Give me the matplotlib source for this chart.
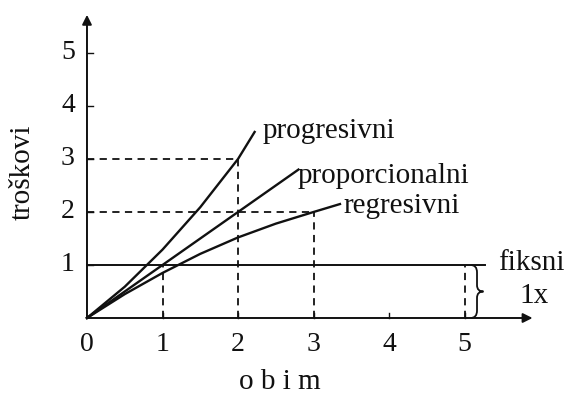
import numpy as np
import matplotlib
matplotlib.use("Agg")
import matplotlib.pyplot as plt
from matplotlib.path import Path
from matplotlib.patches import PathPatch

# ---------------------------------------------------------------------------
# Data (x = obim, y = troškovi)
# ---------------------------------------------------------------------------
PROG_X = [0, 0.5, 1.0, 1.5, 2.0, 2.22]
PROG_Y = [0, 0.59, 1.29, 2.09, 3.0, 3.51]

PROP_X = [0, 2.0, 2.8]
PROP_Y = [0, 2.0, 2.8]

REGR_X = [0, 0.5, 1.0, 1.5, 2.0, 2.5, 3.0, 3.35]
REGR_Y = [0, 0.45, 0.85, 1.21, 1.52, 1.78, 2.0, 2.15]

FIX_X = [0, 5.27]
FIX_Y = [1, 1]

X_TICKS = [0, 1, 2, 3, 4, 5]
Y_TICKS = [1, 2, 3, 4, 5]

# dashed guides: vertical drops from (x, y), horizontal ones to (x, y)
V_GUIDES = [(1, 1), (2, 3), (3, 2), (5, 1)]
H_GUIDES = [(2, 3), (3, 2)]

FONT = "Liberation Serif"
INK = "#111111"
FS = 21

fig = plt.figure(figsize=(5.68, 3.94), dpi=100)
ax = fig.add_axes([0, 0, 1, 1])
ax.set_xlim(-1.152, 6.37)
ax.set_ylim(-1.434, 6.0)
ax.axis("off")

# axes with arrow heads
arrow = dict(arrowstyle="-|>", color=INK, lw=1.4, mutation_scale=14,
             shrinkA=0, shrinkB=0)
ax.annotate("", xy=(5.9, 0), xytext=(0, 0), arrowprops=arrow)
ax.annotate("", xy=(0, 5.72), xytext=(0, 0), arrowprops=arrow)

# ticks
for t in X_TICKS[1:]:
    ax.plot([t, t], [0, 0.1], color=INK, lw=1)
for t in Y_TICKS:
    ax.plot([0, 0.08], [t, t], color=INK, lw=1)

for t in X_TICKS:
    ax.text(t, -0.5, str(t), ha="center", va="center", fontsize=20,
            family=FONT, color=INK)
for t in Y_TICKS:
    ax.text(-0.16, t, str(t), ha="right", va="center", fontsize=20,
            family=FONT, color=INK)

# dashed guides
dash = dict(color=INK, lw=1.3, ls=(0, (4, 3)))
for gx, gy in V_GUIDES:
    ax.plot([gx, gx], [0, gy], **dash)
for gx, gy in H_GUIDES:
    ax.plot([0, gx], [gy, gy], **dash)

# cost curves
ax.plot(PROG_X, PROG_Y, color=INK, lw=1.7)
ax.plot(PROP_X, PROP_Y, color=INK, lw=1.7)
ax.plot(REGR_X, REGR_Y, color=INK, lw=1.7)
ax.plot(FIX_X, FIX_Y, color=INK, lw=1.4)

# curve labels
lbl = dict(fontsize=FS, family=FONT, color=INK, va="center", ha="left")
ax.text(2.32, 3.52, "progresivni", **lbl)
ax.text(2.79, 2.68, "proporcionalni", **lbl)
ax.text(3.39, 2.12, "regresivni", **lbl)
ax.text(5.44, 1.04, "fiksni", **lbl)
ax.text(5.73, 0.42, "1x", **lbl)

# brace over the fixed-cost band
x0, w = 5.08, 0.17
verts = [(x0, 1.0), (x0 + w / 2, 1.0), (x0 + w / 2, 0.86),
         (x0 + w / 2, 0.62),
         (x0 + w / 2, 0.5), (x0 + w, 0.5),
         (x0 + w / 2, 0.5), (x0 + w / 2, 0.38),
         (x0 + w / 2, 0.14),
         (x0 + w / 2, 0.0), (x0, 0.0)]
codes = [Path.MOVETO, Path.CURVE3, Path.CURVE3,
         Path.LINETO,
         Path.CURVE3, Path.CURVE3,
         Path.CURVE3, Path.CURVE3,
         Path.LINETO,
         Path.CURVE3, Path.CURVE3]
ax.add_patch(PathPatch(Path(verts, codes), fill=False, ec=INK, lw=1.3))

ax.text(2.56, -1.2, "o b i m", fontsize=FS, family=FONT, color=INK,
        ha="center", va="center")
ax.text(-0.85, 2.75, "troškovi", fontsize=FS, family=FONT, color=INK,
        ha="center", va="center", rotation=90)

fig.savefig("out.png", dpi=100, facecolor="white")
